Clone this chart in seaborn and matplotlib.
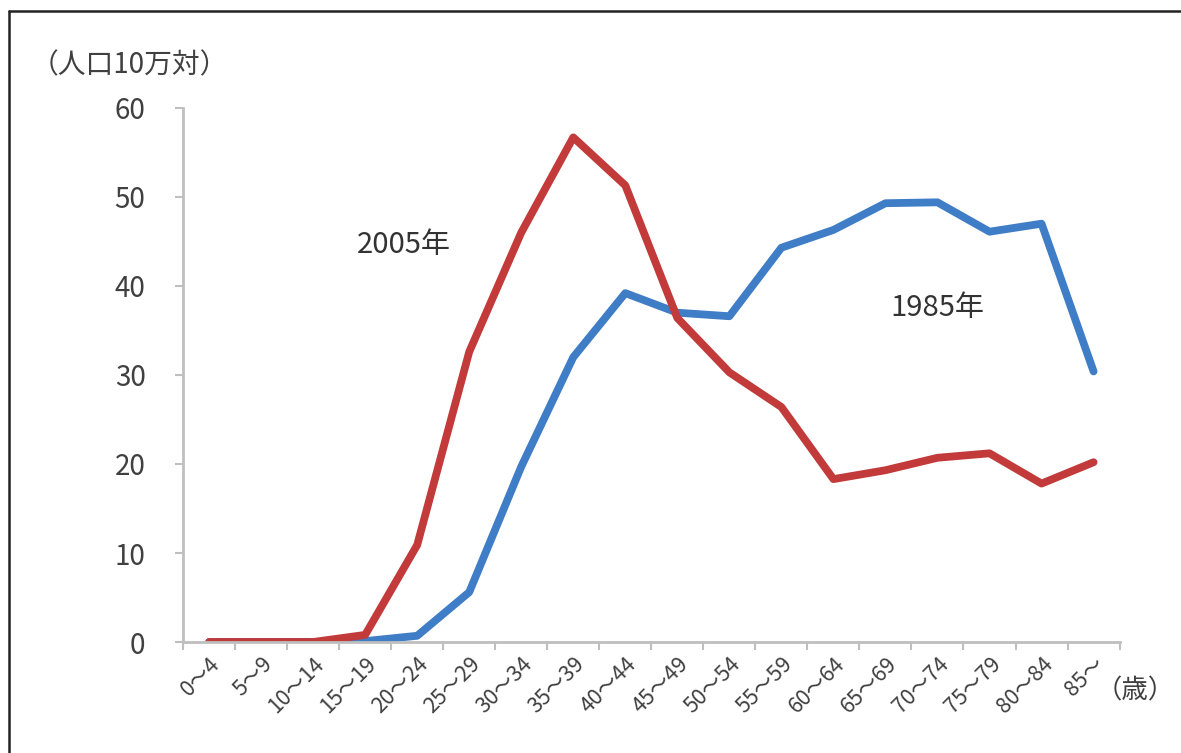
import numpy as np
import pandas as pd
import matplotlib
matplotlib.use("Agg")
import matplotlib.pyplot as plt
from matplotlib.lines import Line2D
import seaborn as sns

age_groups = ["0～4", "5～9", "10～14", "15～19", "20～24", "25～29", "30～34",
              "35～39", "40～44", "45～49", "50～54", "55～59", "60～64",
              "65～69", "70～74", "75～79", "80～84", "85～"]
rate_1985 = [0, 0, 0, 0.1, 0.7, 5.6, 19.7, 32.0, 39.2, 37.0, 36.6, 44.3,
             46.3, 49.3, 49.4, 46.1, 47.0, 30.4]
rate_2005 = [0, 0, 0, 0.8, 10.9, 32.6, 46.0, 56.7, 51.3, 36.4, 30.3, 26.4,
             18.3, 19.3, 20.7, 21.2, 17.8, 20.2]
y_ticks = [0, 10, 20, 30, 40, 50, 60]

sns.set_theme(style="white")
plt.rcParams['font.family'] = ['Noto Sans CJK JP', 'DejaVu Sans']

fig = plt.figure(figsize=(11.81, 7.53), dpi=100)
ax = fig.add_axes([0.155, 0.1474, 0.793, 0.7092])

pos = np.arange(len(age_groups))
df = pd.DataFrame({
    "pos": np.concatenate([pos, pos]),
    "rate": rate_1985 + rate_2005,
    "year": ["1985"] * len(pos) + ["2005"] * len(pos),
})
palette = {"1985": "#3F7DC6", "2005": "#C23A3A"}
sns.lineplot(data=df, x="pos", y="rate", hue="year", palette=palette,
             linewidth=5.6, ax=ax, legend=False, sort=False)

ax.set_xlim(-0.5, len(age_groups) - 0.5)
ax.set_ylim(0, 60)
ax.set_yticks(y_ticks)
ax.set_yticklabels([str(v) for v in y_ticks], fontsize=20, color="#404040")
ax.set_xticks(pos)
ax.set_xticklabels(age_groups, rotation=45, ha="right", rotation_mode="anchor",
                   fontsize=15.5, color="#404040")
ax.set_xticks(np.arange(-0.5, len(age_groups), 1.0), minor=True)
ax.tick_params(axis="x", which="major", length=0, pad=8)
ax.tick_params(axis="x", which="minor", length=6, width=1.5, color="#BFBFBF",
               direction="out", bottom=True)
ax.tick_params(axis="y", length=6, width=1.5, color="#BFBFBF", direction="out",
               left=True, pad=21)
for s in ["top", "right"]:
    ax.spines[s].set_visible(False)
for s in ["left", "bottom"]:
    ax.spines[s].set_color("#BFBFBF")
    ax.spines[s].set_linewidth(2)
ax.set_xlabel("")
ax.set_ylabel("")
ax.grid(False)

fig.text(0.026, 0.913, "（人口10万対）", fontsize=20, color="#404040",
         ha="left", va="center")
fig.text(0.961, 0.083, "（歳）", fontsize=19, color="#404040",
         ha="center", va="center")
ax.text(3.75, 44.6, "2005年", fontsize=21, color="#333333", ha="center", va="center")
ax.text(14.0, 37.5, "1985年", fontsize=21, color="#333333", ha="center", va="center")

fig.add_artist(Line2D([0.0076, 0.0076], [0.0, 0.986], color="#222222", lw=1.8,
                      transform=fig.transFigure))
fig.add_artist(Line2D([0.0076, 1.0], [0.986, 0.986], color="#222222", lw=1.8,
                      transform=fig.transFigure))

fig.savefig("out.png", dpi=100)
